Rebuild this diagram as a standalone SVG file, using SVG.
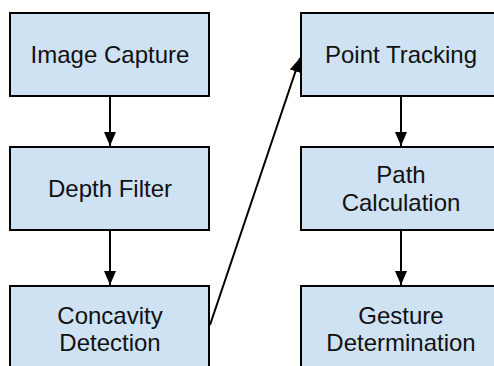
<svg xmlns="http://www.w3.org/2000/svg" width="494" height="366" viewBox="0 0 494 366">
<style>
.box{fill:#cfe2f3;stroke:#000;stroke-width:2}
.lbl{font-family:"Liberation Sans",Arial,sans-serif;font-size:24px;fill:#111;text-anchor:middle}
.edge{stroke:#000;stroke-width:2;fill:none}
</style>
<defs>
<marker id="ah" markerUnits="userSpaceOnUse" markerWidth="14" markerHeight="12" refX="14" refY="6" orient="auto">
<path d="M0,0 L14,6 L0,12 Z" fill="#000"/>
</marker>
</defs>
<rect width="494" height="366" fill="#fff"/>
<g id="image-capture"><rect class="box" x="10" y="13" width="199" height="83"/><text class="lbl" x="110" y="63">Image Capture</text></g>
<g id="depth-filter"><rect class="box" x="10" y="147" width="199" height="83"/><text class="lbl" x="110" y="197">Depth Filter</text></g>
<g id="concavity-detection"><rect class="box" x="10" y="286" width="199" height="83"/><text class="lbl" x="110" y="324">Concavity</text><text class="lbl" x="110" y="351">Detection</text></g>
<g id="point-tracking"><rect class="box" x="301" y="13" width="200" height="83"/><text class="lbl" x="401" y="63">Point Tracking</text></g>
<g id="path-calculation"><rect class="box" x="301" y="147" width="200" height="83"/><text class="lbl" x="401" y="183">Path</text><text class="lbl" x="401" y="211">Calculation</text></g>
<g id="gesture-determination"><rect class="box" x="301" y="286" width="200" height="83"/><text class="lbl" x="401" y="324">Gesture</text><text class="lbl" x="401" y="351">Determination</text></g>
<g id="connectors">
<line class="edge" x1="110" y1="96" x2="110" y2="146" marker-end="url(#ah)"/>
<line class="edge" x1="110" y1="230" x2="110" y2="285" marker-end="url(#ah)"/>
<line class="edge" x1="210" y1="325" x2="300" y2="58" marker-end="url(#ah)"/>
<line class="edge" x1="401" y1="96" x2="401" y2="146" marker-end="url(#ah)"/>
<line class="edge" x1="401" y1="230" x2="401" y2="285" marker-end="url(#ah)"/>
</g>
</svg>
